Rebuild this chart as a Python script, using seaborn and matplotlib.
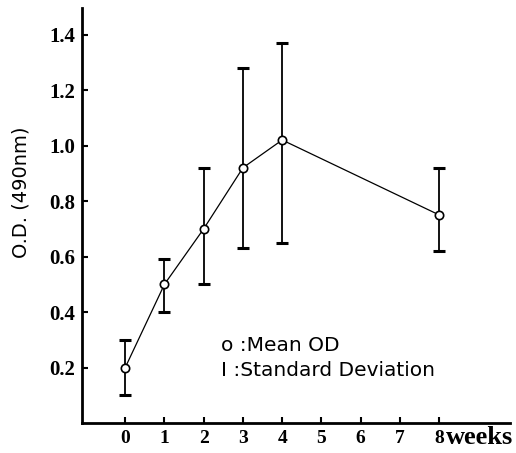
import matplotlib
matplotlib.use("Agg")
import matplotlib.pyplot as plt
import pandas as pd
import seaborn as sns

# mean O.D. (490nm) per week, with lower / upper ends of the SD bars
WEEKS = [0, 1, 2, 3, 4, 8]
MEAN_OD = [0.20, 0.50, 0.70, 0.92, 1.02, 0.75]
SD_LOW = [0.10, 0.40, 0.50, 0.63, 0.65, 0.62]
SD_HIGH = [0.30, 0.59, 0.92, 1.28, 1.37, 0.92]

X_TICKS = [0, 1, 2, 3, 4, 5, 6, 7, 8]
Y_TICKS = [0.2, 0.4, 0.6, 0.8, 1.0, 1.2, 1.4]

df = pd.DataFrame({"week": WEEKS, "od": MEAN_OD, "lo": SD_LOW, "hi": SD_HIGH})

sns.set_style("ticks", {"axes.edgecolor": "black", "text.color": "black",
                        "xtick.color": "black", "ytick.color": "black",
                        "axes.labelcolor": "black"})
fig = plt.figure(figsize=(5.16, 4.53), dpi=100)
ax = fig.add_axes([0.159, 0.066, 0.829, 0.916])

# SD bars first, then the mean line with open circles on top
ax.errorbar(df.week, df.od, yerr=[df.od - df.lo, df.hi - df.od], fmt="none",
            ecolor="black", elinewidth=1.3, capsize=4.5, capthick=2.2, zorder=2)
sns.lineplot(data=df, x="week", y="od", color="black", lw=0.9, marker="o",
             markersize=6, markerfacecolor="white", markeredgecolor="black",
             markeredgewidth=1.2, ax=ax, zorder=3)

ax.set_xlim(-1.1, 9.8)
ax.set_ylim(0, 1.495)
ax.set_xticks(X_TICKS)
ax.set_xticklabels([str(t) for t in X_TICKS], fontsize=14, fontweight="bold",
                   family="Liberation Serif")
ax.set_yticks(Y_TICKS)
ax.set_yticklabels([f"{t:.1f}" for t in Y_TICKS], fontsize=15, fontweight="bold",
                   family="Liberation Serif")
ax.tick_params(direction="in", length=4.5, width=1.5, colors="black")
ax.tick_params(axis="y", pad=5)
ax.tick_params(axis="x", pad=5)
ax.text(8.18, -0.052, "weeks", fontsize=19, fontweight="bold",
        family="Liberation Serif", ha="left", va="center", clip_on=False)

ax.set_xlabel("")
ax.set_ylabel("O.D. (490nm)", fontsize=14, family="DejaVu Sans", color="black")
ax.yaxis.set_label_coords(-0.12, 0.557)

for side in ("top", "right"):
    ax.spines[side].set_visible(False)
for side in ("left", "bottom"):
    ax.spines[side].set_linewidth(2.0)
    ax.spines[side].set_color("black")

ax.text(2.45, 0.279, "o :Mean OD", fontsize=14.5, family="DejaVu Sans",
        va="center", color="black")
ax.text(2.45, 0.19, "I :Standard Deviation", fontsize=14.5, family="DejaVu Sans",
        va="center", color="black")

fig.savefig("out.png", dpi=100)
